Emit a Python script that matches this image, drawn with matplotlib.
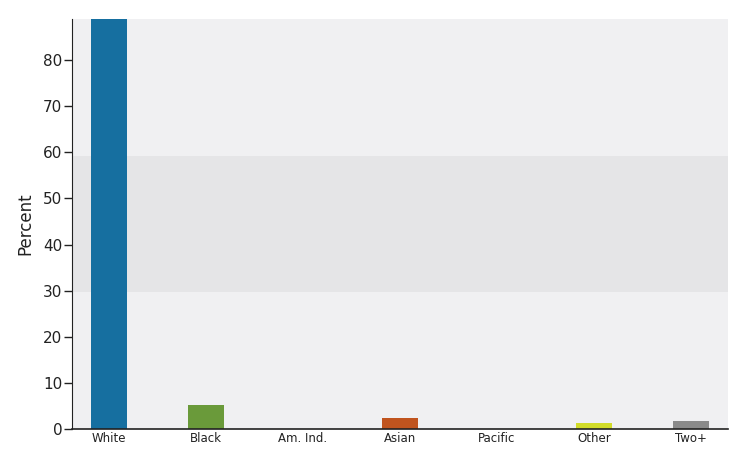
import matplotlib
matplotlib.use("Agg")
import matplotlib.pyplot as plt

categories = ["White", "Black", "Am. Ind.", "Asian", "Pacific", "Other", "Two+"]
values = [89.5, 5.2, 0.1, 2.4, 0.05, 1.4, 1.8]
colors = ["#166fa0", "#6a9a3a", "#8a6a4a", "#c0541e", "#888888", "#d2dc28", "#8a8a8a"]
yticks = [0, 10, 20, 30, 40, 50, 60, 70, 80]
band = (29.7, 59.3)

fig = plt.figure(figsize=(7.31, 4.55), dpi=100)
ax = fig.add_axes([72 / 731, 26 / 455, 656 / 731, 410 / 455])
ax.set_facecolor("#f0f0f2")
ax.axhspan(band[0], band[1], color="#e5e5e7", zorder=0, lw=0)

x = list(range(len(categories)))
ax.bar(x, values, width=0.37, color=colors, zorder=2)

ax.set_xlim(-0.38, len(categories) - 1 + 0.38)
ax.set_ylim(0, 88.9)
ax.set_yticks(yticks)
ax.set_xticks(x)
ax.set_xticklabels(categories, fontsize=8.5, color="#222222")
ax.tick_params(axis="x", length=0, pad=2)
ax.tick_params(axis="y", length=6, width=1, labelsize=11, colors="#222222", pad=1)
for s in ["top", "right"]:
    ax.spines[s].set_visible(False)
ax.spines["left"].set_color("#222222")
ax.spines["bottom"].set_color("#222222")
ax.spines["bottom"].set_linewidth(1.2)
ax.set_ylabel("Percent", fontsize=12, color="#222222", labelpad=6)

fig.savefig("out.png", dpi=100)
